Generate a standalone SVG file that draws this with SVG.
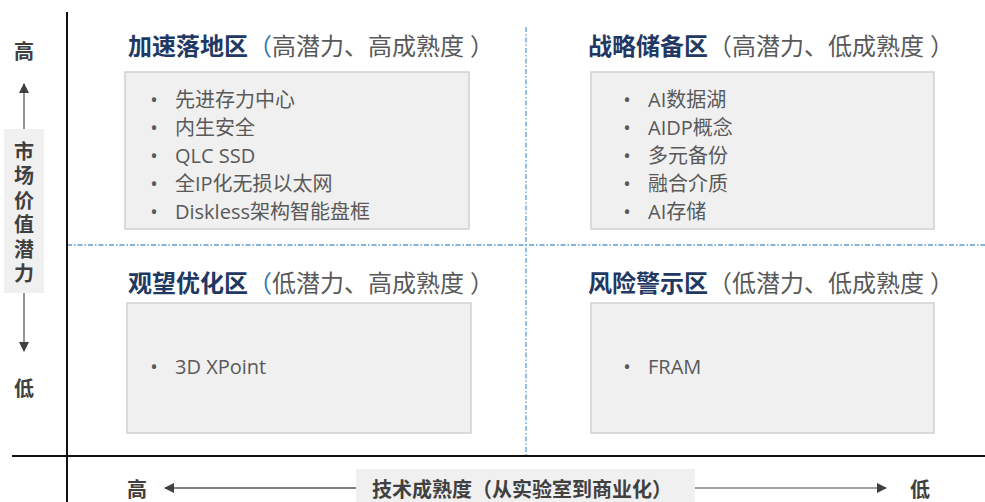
<svg xmlns="http://www.w3.org/2000/svg" width="985" height="502" viewBox="0 0 985 502">
<defs>
<style>
.t{font-family:'Open Sans','Noto Sans CJK SC',sans-serif;}
.title{font-size:24px;fill:#595959;}
.tb{font-weight:bold;fill:#1F3864;}
.tp{fill:#2E75B6;}
.item{font-size:20px;fill:#595959;}
.ax{font-family:'Noto Sans CJK SC',sans-serif;font-weight:bold;font-size:20px;fill:#404040;}
.vert{writing-mode:vertical-rl;letter-spacing:4.5px;}
.box{fill:#F0F0F0;stroke:#D3D1CC;stroke-width:1.5;}
.dot{stroke:#5B9BD5;stroke-width:1.3;stroke-dasharray:5 2 1.5 2;fill:none;}
.axis{stroke:#111;stroke-width:2;fill:none;}
.arr{stroke:#595959;stroke-width:1.3;fill:none;}
.arr2{stroke:#808080;stroke-width:1.5;fill:none;}
</style>
<marker id="ah" markerWidth="10" markerHeight="10" refX="9" refY="5" orient="auto" markerUnits="userSpaceOnUse">
<path d="M0,0 L10,5 L0,10 Z" fill="#404040"/>
</marker>
</defs>
<rect width="985" height="502" fill="#FFFFFF"/>

<g id="grid">
<line class="dot" x1="67" y1="245" x2="985" y2="245"/>
<line class="dot" x1="526" y1="27" x2="526" y2="455"/>
</g>

<g id="axes">
<line class="axis" x1="67" y1="12" x2="67" y2="502"/>
<line class="axis" x1="12" y1="456" x2="985" y2="456"/>
</g>

<g id="connectors">
<line class="arr" x1="24" y1="129" x2="24" y2="84" marker-end="url(#ah)"/>
<line class="arr" x1="24" y1="293" x2="24" y2="351" marker-end="url(#ah)"/>
<line class="arr" x1="356" y1="488" x2="165" y2="488" marker-end="url(#ah)"/>
<line class="arr2" x1="695" y1="488" x2="886" y2="488" marker-end="url(#ah)"/>
</g>

<g id="y-axis-label">
<text class="ax" x="24" y="59" text-anchor="middle">高</text>
<rect x="4" y="129" width="40" height="164" fill="#F0F0F0"/>
<text class="ax vert" x="24" y="141">市场价值潜力</text>
<text class="ax" x="24" y="396" text-anchor="middle">低</text>
</g>

<g id="x-axis-label">
<text class="ax" x="137" y="497" text-anchor="middle">高</text>
<rect x="356" y="469" width="339" height="33" fill="#F0F0F0"/>
<text class="ax" x="522" y="497" text-anchor="middle">技术成熟度（从实验室到商业化）</text>
<text class="ax" x="920" y="497" text-anchor="middle">低</text>
</g>

<g id="q1">
<text class="t title" x="128" y="55"><tspan class="tb">加速落地区</tspan><tspan class="tp">（</tspan>高潜力、高成熟度<tspan dx="6">）</tspan></text>
<rect class="box" x="125" y="72" width="344" height="157"/>
<g class="t item">
<text x="154" y="107" text-anchor="middle">•</text><text x="175" y="107">先进存力中心</text>
<text x="154" y="135" text-anchor="middle">•</text><text x="175" y="135">内生安全</text>
<text x="154" y="163" text-anchor="middle">•</text><text x="175" y="163">QLC SSD</text>
<text x="154" y="191" text-anchor="middle">•</text><text x="175" y="191">全IP化无损以太网</text>
<text x="154" y="219" text-anchor="middle">•</text><text x="175" y="219">Diskless架构智能盘框</text>
</g>
</g>

<g id="q2">
<text class="t title" x="588" y="55"><tspan class="tb">战略储备区</tspan>（高潜力、低成熟度<tspan dx="6">）</tspan></text>
<rect class="box" x="591" y="72" width="343" height="157"/>
<g class="t item">
<text x="627" y="107" text-anchor="middle">•</text><text x="648" y="107">AI数据湖</text>
<text x="627" y="135" text-anchor="middle">•</text><text x="648" y="135">AIDP概念</text>
<text x="627" y="163" text-anchor="middle">•</text><text x="648" y="163">多元备份</text>
<text x="627" y="191" text-anchor="middle">•</text><text x="648" y="191">融合介质</text>
<text x="627" y="219" text-anchor="middle">•</text><text x="648" y="219">AI存储</text>
</g>
</g>

<g id="q3">
<text class="t title" x="128" y="292"><tspan class="tb">观望优化区</tspan><tspan class="tp">（</tspan>低潜力、高成熟度<tspan dx="6">）</tspan></text>
<rect class="box" x="127" y="303" width="344" height="130"/>
<g class="t item">
<text x="154" y="374" text-anchor="middle">•</text><text x="175" y="374">3D XPoint</text>
</g>
</g>

<g id="q4">
<text class="t title" x="588" y="292"><tspan class="tb">风险警示区</tspan>（低潜力、低成熟度<tspan dx="6">）</tspan></text>
<rect class="box" x="591" y="303" width="343" height="130"/>
<g class="t item">
<text x="627" y="374" text-anchor="middle">•</text><text x="648" y="374">FRAM</text>
</g>
</g>
</svg>
